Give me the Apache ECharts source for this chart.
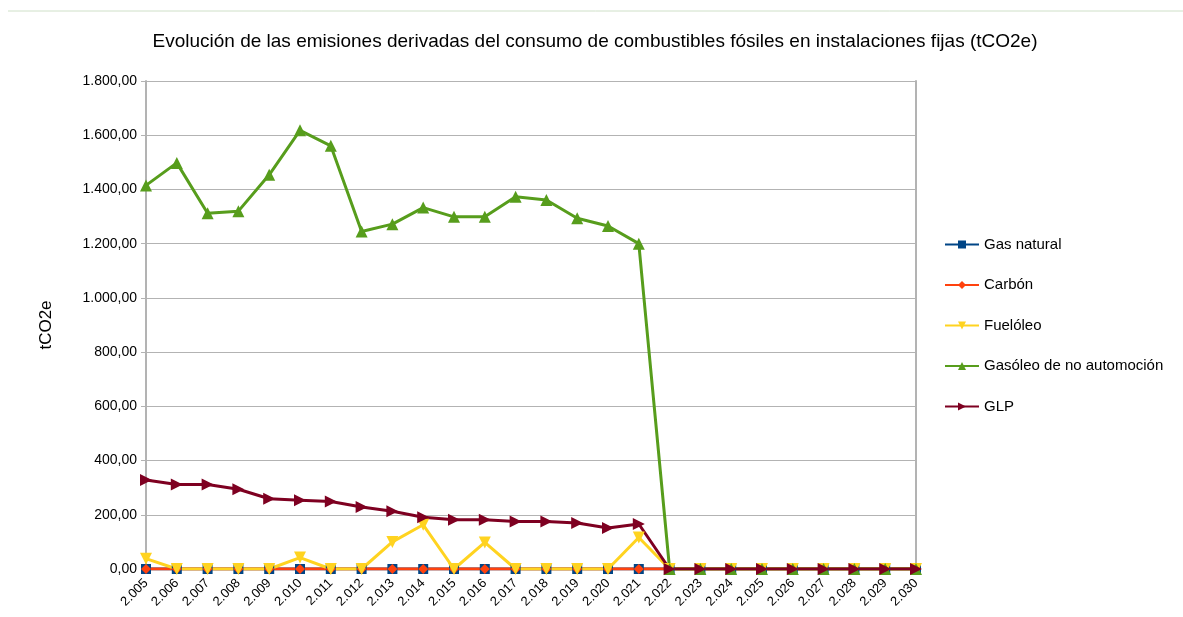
<!DOCTYPE html>
<html>
<head>
<meta charset="utf-8">
<script src="https://cdn.jsdelivr.net/npm/echarts@6/dist/echarts.min.js"></script>
<style>
html,body{margin:0;padding:0;background:#fff;}
#chart{width:1183px;height:617px;}
</style>
</head>
<body>
<div id="chart"></div>
<script>
const years = ['2.005','2.006','2.007','2.008','2.009','2.010','2.011','2.012','2.013','2.014','2.015','2.016','2.017','2.018','2.019','2.020','2.021','2.022','2.023','2.024','2.025','2.026','2.027','2.028','2.029','2.030'];
const gasNatural = [0,0,0,0,0,0,0,0,0,0,0,0,0,0,0,0,0,0,0,0,0,0,0,0,0,0];
const carbon     = [0,0,0,0,0,0,0,0,0,0,0,0,0,0,0,0,0,0,0,0,0,0,0,0,0,0];
const fueloleo   = [38,0,0,0,0,42,0,0,100,163,0,98,0,0,0,0,116,0,0,0,0,0,0,0,0,0];
const gasoleo    = [1415,1498,1312,1320,1454,1618,1561,1245,1272,1333,1299,1299,1373,1361,1294,1265,1200,0,0,0,0,0,0,0,0,0];
const glp        = [328,312,312,294,259,254,249,229,213,191,182,182,175,175,170,151,166,0,0,0,0,0,0,0,0,0];
const seriesNames = ['Gas natural','Carbón','Fuelóleo','Gasóleo de no automoción','GLP'];
const yTicks = [0,200,400,600,800,1000,1200,1400,1600,1800];

function fmt(v){
  const parts = v.toFixed(2).split('.');
  parts[0] = parts[0].replace(/\B(?=(\d{3})+(?!\d))/g, '.');
  return parts[0] + ',' + parts[1];
}

const chart = echarts.init(document.getElementById('chart'));
const font = 'Liberation Sans, Arial, sans-serif';
function mk(name, data, color, symbol, size, rotate){
  return {
    name, type:'line', data, symbol, symbolSize:size, symbolRotate:rotate||0,
    itemStyle:{color}, lineStyle:{color, width:3}, showSymbol:true, animation:false
  };
}
chart.setOption({
  backgroundColor:'#fff',
  textStyle:{fontFamily:font},
  title:{
    text:'Evolución de las emisiones derivadas del consumo de combustibles fósiles en instalaciones fijas (tCO2e)',
    left:590, textAlign:'center', top:27,
    textStyle:{fontFamily:font, fontSize:19, fontWeight:'normal', color:'#000'}
  },
  graphic:[{type:'line', shape:{x1:8,y1:11,x2:1183,y2:11}, style:{stroke:'#cfe0c8', lineWidth:1}}],
  legend:{
    orient:'vertical', left:939, top:232, itemGap:25.5, itemWidth:34, itemHeight:10,
    textStyle:{fontFamily:font, fontSize:15, color:'#000'},
    data:seriesNames
  },
  grid:{left:146, right:267, top:81, bottom:48, containLabel:false},
  xAxis:{
    type:'category', data:years, boundaryGap:false,
    axisLine:{show:true, lineStyle:{color:'#b3b3b3', width:1}},
    axisTick:{show:true, alignWithLabel:true, lineStyle:{color:'#b3b3b3'}, length:4},
    axisLabel:{rotate:45, fontSize:13, color:'#000', fontFamily:font, interval:0, margin:12},
    splitLine:{show:false}
  },
  yAxis:[{
    type:'value', min:0, max:1800, interval:200,
    name:'tCO2e', nameLocation:'middle', nameGap:91, nameRotate:90,
    nameTextStyle:{fontSize:17, color:'#000', fontFamily:font},
    axisLine:{show:true, lineStyle:{color:'#b3b3b3', width:2}},
    axisTick:{show:true, length:5, lineStyle:{color:'#b3b3b3'}},
    axisLabel:{formatter:v=>fmt(v), fontSize:14, color:'#000', fontFamily:font, margin:9},
    splitLine:{show:true, lineStyle:{color:'#b3b3b3', width:1}}
  },{
    type:'value', min:0, max:1800, interval:200, position:'right',
    axisLine:{show:true, lineStyle:{color:'#b3b3b3', width:2}},
    axisTick:{show:false}, axisLabel:{show:false}, splitLine:{show:false}
  }],
  series:[
    mk(seriesNames[0], gasNatural, '#004586', 'rect', 10),
    mk(seriesNames[1], carbon, '#ff420e', 'diamond', 10),
    mk(seriesNames[2], fueloleo, '#ffd320', 'triangle', 12, 180),
    mk(seriesNames[3], gasoleo, '#579d1c', 'triangle', 12),
    mk(seriesNames[4], glp, '#7e0021', 'triangle', 12, -90)
  ]
});
</script>
</body>
</html>
